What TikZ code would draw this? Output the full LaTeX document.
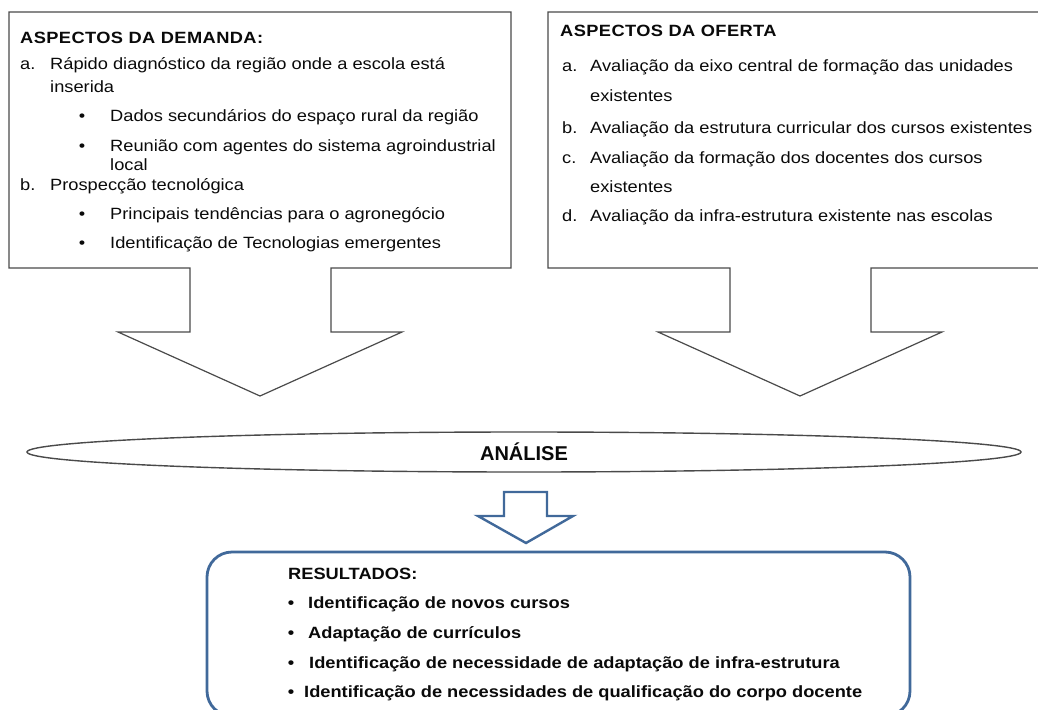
\documentclass[tikz,border=0pt]{standalone}
\usepackage{fontspec}
\setmainfont{Liberation Sans}[FakeStretch=1.12]
\newfontfamily\plainsans{Liberation Sans}
\definecolor{edge}{HTML}{4A4A4A}
\definecolor{ink}{HTML}{0A0A0A}
\definecolor{steel}{HTML}{41699A}
\tikzset{
  txt/.style={anchor=base west, inner sep=0pt, text=ink, font=\fontsize{16.3}{19}\selectfont},
  hdr/.style={txt, font=\fontsize{16.3}{19}\selectfont\bfseries\addfontfeature{LetterSpace=2.5}},
  btxt/.style={txt, font=\fontsize{16.3}{19}\selectfont\bfseries},
  bul/.style={anchor=base, inner sep=0pt, text=ink, font=\fontsize{16.3}{19}\selectfont},
  bbul/.style={bul, font=\fontsize{16.3}{19}\selectfont\bfseries},
  outline/.style={draw=edge, line width=1.2pt, line join=miter},
  blueline/.style={draw=steel, line width=2.8pt},
}
\begin{document}
\begin{tikzpicture}[x=1pt,y=-1pt]
\clip (0,0) rectangle (1038,709);
\fill[white] (0,0) rectangle (1038,709);

% left box with block arrow
\draw[outline] (190,268) -- (9,268) -- (9,12) -- (511,12) -- (511,268) -- (331,268)
  -- (331,332) -- (402,332) -- (260,396) -- (118,332) -- (190,332) -- cycle;
% right box with block arrow
\draw[outline] (730,268) -- (548,268) -- (548,12) -- (1045,12) -- (1045,268) -- (871,268)
  -- (871,332) -- (942,332) -- (800,396) -- (658,332) -- (730,332) -- cycle;

% left texts
\node[hdr] (dh) at (20,43.3) {ASPECTOS DA DEMANDA:};
\node[txt] (dal) at (20,70) {a.};
\node[txt] (da1) at (50,70) {Rápido diagnóstico da região onde a escola está};
\node[txt] (da2) at (50,92.7) {inserida};
\node[bul] (db1) at (82,121.7) {\textbullet};
\node[txt] (dd1) at (110,121.7) {Dados secundários do espaço rural da região};
\node[bul] (db2) at (82,151.7) {\textbullet};
\node[txt] (dd2) at (110,151.7) {Reunião com agentes do sistema agroindustrial};
\node[txt] (dd2b) at (110,170) {local};
\node[txt] (dbl) at (20,190) {b.};
\node[txt] (db) at (50,190) {Prospecção tecnológica};
\node[bul] (db3) at (82,219.3) {\textbullet};
\node[txt] (dd3) at (110,219.3) {Principais tendências para o agronegócio};
\node[bul] (db4) at (82,248) {\textbullet};
\node[txt] (dd4) at (110,248) {Identificação de Tecnologias emergentes};

% right texts
\node[hdr] (oh) at (560,36.7) {ASPECTOS DA OFERTA};
\node[txt] (oal) at (562,71.7) {a.};
\node[txt] (oa1) at (590,71.7) {Avaliação da eixo central de formação das unidades};
\node[txt] (oa2) at (590,101.7) {existentes};
\node[txt] (obl) at (562,133.3) {b.};
\node[txt] (ob) at (590,133.3) {Avaliação da estrutura curricular dos cursos existentes};
\node[txt] (ocl) at (562,163.3) {c.};
\node[txt] (oc1) at (590,163.3) {Avaliação da formação dos docentes dos cursos};
\node[txt] (oc2) at (590,192.7) {existentes};
\node[txt] (odl) at (562,221.7) {d.};
\node[txt] (od) at (590,221.7) {Avaliação da infra-estrutura existente nas escolas};

% analysis ellipse
\draw[outline, line width=1.4pt] (524,452) ellipse [x radius=497, y radius=20];
\node[inner sep=0pt, text=ink, font=\plainsans\fontsize{20}{22}\selectfont\bfseries] (an) at (524,452) {ANÁLISE};

% small blue arrow
\draw[blueline, line width=2.4pt, line join=miter] (504,492) -- (547,492) -- (547,516) -- (573,516)
  -- (526,543) -- (478,516) -- (504,516) -- cycle;

% results box
\draw[blueline, rounded corners=25pt] (207,552) rectangle (910,716);
\node[btxt] (rh) at (288,579) {RESULTADOS:};
\node[bbul] (rb1) at (291,608) {\textbullet};
\node[btxt] (r1) at (308,608) {Identificação de novos cursos};
\node[bbul] (rb2) at (291,638) {\textbullet};
\node[btxt] (r2) at (308,638) {Adaptação de currículos};
\node[bbul] (rb3) at (291,668) {\textbullet};
\node[btxt] (r3) at (309,668) {Identificação de necessidade de adaptação de infra-estrutura};
\node[bbul] (rb4) at (291,697) {\textbullet};
\node[btxt] (r4) at (304,697) {Identificação de necessidades de qualificação do corpo docente};
\end{tikzpicture}
\end{document}
